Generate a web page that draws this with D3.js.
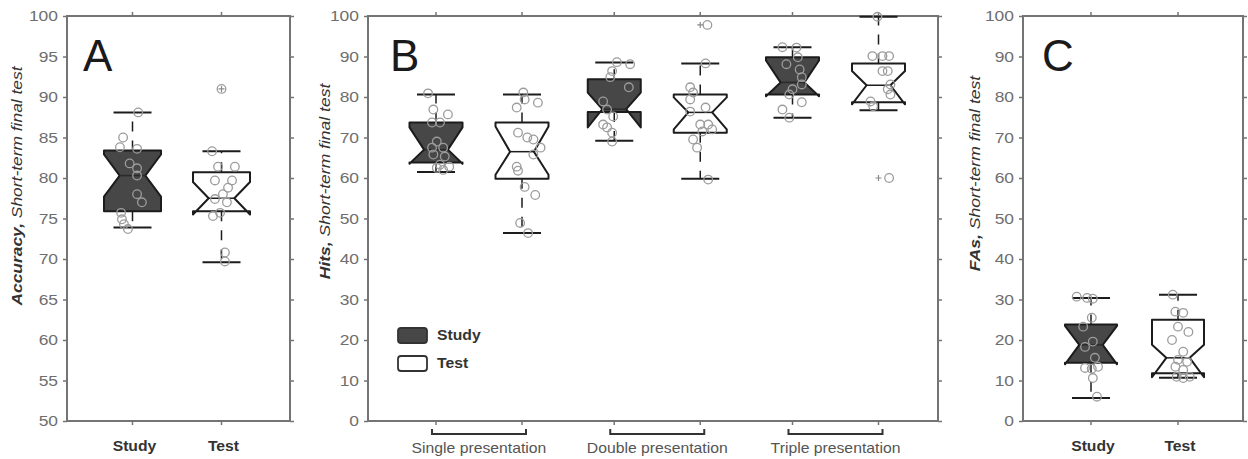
<!DOCTYPE html>
<html><head><meta charset="utf-8">
<script src="https://cdn.jsdelivr.net/npm/d3@7"></script>
<style>body{margin:0;background:#fff}svg{display:block}</style>
</head><body><svg id="chart" width="1248" height="459"></svg>
<script>
// ---------------- data ----------------
const yTicksA = [50, 55, 60, 65, 70, 75, 80, 85, 90, 95, 100];
const yTicksBC = [0, 10, 20, 30, 40, 50, 60, 70, 80, 90, 100];
const conditions = ["Study", "Test"];
const groupsB = ["Single presentation", "Double presentation", "Triple presentation"];
const panelLetters = ["A", "B", "C"];
const axisLabelBold = ["Accuracy,", "Hits,", "FAs,"];
const axisLabelRest = " Short-term final test";

const boxPanel     = ["A", "A", "B", "B", "B", "B", "B", "B", "C", "C"];
const boxGroup     = ["", "", "Single presentation", "Single presentation", "Double presentation", "Double presentation", "Triple presentation", "Triple presentation", "", ""];
const boxCondition = ["Study", "Test", "Study", "Test", "Study", "Test", "Study", "Test", "Study", "Test"];
const q1        = [75.9, 75.9, 63.8, 59.8, 76.3, 71.2, 80.6, 78.7, 14.4, 11.8];
const median    = [80.3, 77.5, 67.0, 66.5, 77.0, 76.2, 83.6, 82.9, 18.8, 15.6];
const q3        = [83.4, 80.7, 73.7, 73.7, 84.4, 80.6, 89.8, 88.3, 23.8, 25.0];
const notchLo   = [77.7, 75.5, 63.5, 60.8, 72.5, 72.0, 80.2, 78.2, 14.0, 10.8];
const notchHi   = [82.9, 79.5, 72.5, 72.7, 81.1, 79.9, 89.0, 86.4, 23.5, 18.8];
const whiskerLo = [73.9, 69.6, 61.5, 46.4, 69.2, 59.8, 74.9, 76.7, 5.7, 10.7];
const whiskerHi = [88.1, 83.3, 80.6, 80.6, 88.5, 88.3, 92.3, 99.8, 30.4, 31.2];
const outliers  = [[], [91.0], [], [], [], [97.8], [], [60.0], [], []];

const pointValues = [
  [88.1, 85.0, 83.8, 83.6, 81.8, 81.2, 80.3, 78.0, 77.0, 75.7, 74.9, 74.3, 73.7],
  [91.0, 83.3, 81.4, 81.4, 79.7, 79.7, 78.8, 78.0, 77.4, 77.0, 75.7, 75.3, 70.8, 69.7],
  [80.9, 76.9, 75.7, 73.7, 73.7, 69.0, 67.5, 67.5, 65.8, 65.3, 63.3, 62.8, 62.5, 62.0],
  [81.1, 79.4, 78.6, 77.4, 71.2, 70.0, 69.5, 67.5, 65.8, 62.8, 61.8, 57.8, 55.8, 48.9, 46.4],
  [88.6, 88.1, 86.4, 84.9, 82.4, 78.9, 76.9, 75.2, 73.2, 72.5, 71.2, 69.0],
  [97.8, 88.3, 82.4, 81.1, 79.4, 77.4, 76.4, 73.2, 73.2, 72.0, 71.5, 69.5, 67.5, 59.6],
  [92.3, 92.2, 89.8, 88.1, 86.8, 84.9, 83.1, 81.9, 80.6, 78.7, 76.9, 74.9],
  [99.8, 90.1, 90.1, 90.1, 86.4, 86.4, 83.1, 81.9, 80.6, 78.9, 77.7, 60.0],
  [30.7, 30.4, 30.2, 25.5, 23.3, 19.6, 18.3, 15.6, 13.4, 13.1, 12.9, 10.6, 6.0],
  [31.2, 27.0, 26.7, 23.3, 22.0, 20.0, 17.1, 15.1, 14.6, 13.4, 12.6, 10.9, 10.9, 10.6]
];
// horizontal jitter of each point, as a fraction of the half box width
const pointJitter = [
  [0.2, -0.33, -0.44, 0.16, -0.1, 0.16, 0.16, 0.16, 0.33, -0.4, -0.37, -0.3, -0.16],
  [0, -0.33, -0.12, 0.47, -0.23, 0.37, 0.23, 0.05, -0.23, 0.19, -0.05, -0.3, 0.12, 0.12],
  [-0.3, -0.1, 0.45, -0.15, 0.15, 0.03, -0.15, 0.27, -0.1, 0.33, 0.15, 0.5, 0.03, 0.27],
  [0.05, 0.1, 0.6, -0.2, -0.15, 0.2, 0.43, 0.7, 0.43, -0.2, -0.15, 0.1, 0.5, -0.07, 0.23],
  [0.1, 0.6, -0.08, -0.15, 0.55, -0.42, -0.27, -0.04, -0.42, -0.27, -0.08, -0.08],
  [0.27, 0.2, -0.38, -0.27, -0.38, 0.2, -0.38, 0, 0.3, 0.45, 0.08, -0.27, -0.12, 0.3],
  [-0.38, 0.15, 0.2, -0.23, 0.27, 0.35, 0.35, 0, -0.12, 0.35, -0.38, -0.12],
  [-0.04, -0.23, 0.15, 0.4, 0.15, 0.35, 0.45, 0.35, 0.45, -0.3, -0.2, 0.4],
  [-0.55, -0.15, 0.07, 0.03, -0.3, 0.07, -0.23, 0.15, 0.27, -0.23, 0.03, 0.07, 0.23],
  [-0.2, -0.1, 0.2, 0, 0.4, -0.23, 0.2, 0, 0.35, -0.1, 0.2, -0.05, 0.45, 0.2]
];

// ---------------- layout ----------------
const svg = d3.select("#chart");
const FRAME = "#747474";
const FONT = "'Liberation Sans', Arial, sans-serif";
const SX = 1.125; // horizontal stretch of the original figure text

const panels = {
  A: {left: 67, right: 290, top: 16, bottom: 421, domain: [50, 100], ticks: yTicksA,
      hw: 28.5, labelX: 17, labelY: 186, labelLen: 242, letterX: 83,
      x: d3.scalePoint().domain(conditions).range([132.5, 221.5])},
  B: {left: 368, right: 938, top: 16, bottom: 421, domain: [0, 100], ticks: yTicksBC,
      hw: 26.5, labelX: 325, labelY: 181.5, labelLen: 197, letterX: 390,
      group: d3.scalePoint().domain(groupsB).range([479, 835.5]),
      sub: d3.scalePoint().domain(conditions).range([-43, 43])},
  C: {left: 1023, right: 1243, top: 16, bottom: 421, domain: [0, 100], ticks: yTicksBC,
      hw: 26, labelX: 975, labelY: 173.5, labelLen: 197, letterX: 1042,
      x: d3.scalePoint().domain(conditions).range([1091, 1178])}
};
panels.B.xOf = (g, c) => panels.B.group(g) + panels.B.sub(c);
panels.A.xOf = (g, c) => panels.A.x(c);
panels.C.xOf = (g, c) => panels.C.x(c);

panelLetters.forEach((id, pi) => {
  const p = panels[id];
  p.y = d3.scaleLinear().domain(p.domain).range([p.bottom, p.top]);
  const g = svg.append("g");

  // left axis
  const ax = g.append("g").attr("transform", `translate(${p.left},0)`)
    .call(d3.axisLeft(p.y).tickValues(p.ticks).tickSize(4).tickPadding(4).tickSizeOuter(0));
  ax.select(".domain").remove();
  ax.selectAll(".tick line").attr("stroke", FRAME).attr("stroke-width", 1.5);
  ax.selectAll(".tick text").attr("fill", "#6e6e6e").attr("font-size", 15.5)
    .attr("font-family", FONT).attr("transform", `scale(${SX},1)`);
  // right ticks
  const ar = g.append("g").attr("transform", `translate(${p.right},0)`)
    .call(d3.axisRight(p.y).tickValues(p.ticks).tickSize(4).tickFormat("").tickSizeOuter(0));
  ar.select(".domain").remove();
  ar.selectAll(".tick line").attr("stroke", FRAME).attr("stroke-width", 1.5);

  // category ticks top & bottom
  const idx = d3.range(boxPanel.length).filter(i => boxPanel[i] === id);
  const xs = idx.map(i => p.xOf(boxGroup[i], boxCondition[i]));
  g.selectAll(".tt").data(xs).join("line")
    .attr("x1", d => d).attr("x2", d => d).attr("y1", p.top).attr("y2", p.top - 4)
    .attr("stroke", FRAME).attr("stroke-width", 1.5);
  g.selectAll(".tb").data(xs).join("line")
    .attr("x1", d => d).attr("x2", d => d).attr("y1", p.bottom).attr("y2", p.bottom + 4)
    .attr("stroke", FRAME).attr("stroke-width", 1.5);

  // frame
  g.append("rect").attr("x", p.left).attr("y", p.top)
    .attr("width", p.right - p.left).attr("height", p.bottom - p.top)
    .attr("fill", "none").attr("stroke", FRAME).attr("stroke-width", 2);

  // boxes
  const iw = p.hw * 0.45, capHw = 19;
  idx.forEach(i => {
    const cx = p.xOf(boxGroup[i], boxCondition[i]);
    const y = p.y;
    const xL = cx - p.hw, xR = cx + p.hw;
    const pts = [[xL, q1[i]], [xL, notchLo[i]], [cx - iw, median[i]], [xL, notchHi[i]], [xL, q3[i]],
                 [xR, q3[i]], [xR, notchHi[i]], [cx + iw, median[i]], [xR, notchLo[i]], [xR, q1[i]]];
    const study = boxCondition[i] === "Study";
    g.append("path")
      .attr("d", d3.line().x(d => d[0]).y(d => y(d[1]))(pts) + "Z")
      .attr("fill", study ? "#474747" : "#fff")
      .attr("stroke", "#1c1c1c").attr("stroke-width", 2).attr("stroke-linejoin", "round");
    g.append("line").attr("x1", cx - iw).attr("x2", cx + iw)
      .attr("y1", y(median[i])).attr("y2", y(median[i]))
      .attr("stroke", study ? "#2a2a2a" : "#1c1c1c").attr("stroke-width", 1.5);
    // whiskers
    [[q3[i], whiskerHi[i]], [q1[i], whiskerLo[i]]].forEach(([a, b]) => {
      g.append("line").attr("x1", cx).attr("x2", cx).attr("y1", y(a)).attr("y2", y(b))
        .attr("stroke", "#1c1c1c").attr("stroke-width", 1.5).attr("stroke-dasharray", "10,9");
      g.append("line").attr("x1", cx - capHw).attr("x2", cx + capHw).attr("y1", y(b)).attr("y2", y(b))
        .attr("stroke", "#1c1c1c").attr("stroke-width", 2);
    });
    // points
    g.selectAll(null).data(pointValues[i].map((v, k) => [v, pointJitter[i][k]])).join("circle")
      .attr("cx", d => cx + d[1] * p.hw).attr("cy", d => y(d[0])).attr("r", 4.3)
      .attr("fill", "none").attr("stroke", "#9c9c9c").attr("stroke-width", 1.3);
    // outlier markers
    outliers[i].forEach(v => {
      g.append("path").attr("d", `M${cx - 3},${y(v)}h6M${cx},${y(v) - 3}v6`)
        .attr("stroke", "#8a8a8a").attr("stroke-width", 1.2);
    });
  });

  // panel letter
  g.append("text").attr("x", p.letterX).attr("y", 71).text(id)
    .attr("font-family", FONT).attr("font-size", 44).attr("fill", "#1a1a1a");

  // y axis label
  const t = g.append("text").attr("text-anchor", "middle").attr("dy", "0.35em")
    .attr("font-family", FONT).attr("font-size", 14).attr("font-style", "italic").attr("fill", "#333");
  t.append("tspan").attr("font-weight", "bold").text(axisLabelBold[pi]);
  t.append("tspan").text(axisLabelRest);
  const L = t.node().getBBox().width;
  t.attr("transform", `translate(${p.labelX},${p.labelY}) rotate(-90) scale(${p.labelLen / L},1)`);

  // x labels
  if (id === "B") {
    groupsB.forEach(gr => {
      const gx = p.group(gr);
      g.append("path").attr("d", `M${gx - 47},429V434H${gx + 47}V429`)
        .attr("fill", "none").attr("stroke", "#333").attr("stroke-width", 2);
      g.append("text").text(gr).attr("text-anchor", "middle")
        .attr("transform", `translate(${gx},453) scale(${SX},1)`)
        .attr("font-family", FONT).attr("font-size", 14).attr("fill", "#555");
    });
  } else {
    conditions.forEach(c => {
      g.append("text").text(c).attr("text-anchor", "middle")
        .attr("transform", `translate(${p.x(c) + 2},451) scale(${SX},1)`)
        .attr("font-family", FONT).attr("font-size", 14).attr("font-weight", "bold").attr("fill", "#333");
    });
  }
});

// legend (panel B)
const lg = svg.append("g");
conditions.forEach((c, k) => {
  const ly = 335 + k * 28;
  lg.append("rect").attr("x", 398).attr("y", ly - 7).attr("width", 29).attr("height", 15).attr("rx", 3)
    .attr("fill", c === "Study" ? "#474747" : "#fff").attr("stroke", "#333").attr("stroke-width", 1.8);
  lg.append("text").text(c).attr("transform", `translate(437,${ly + 5}) scale(${SX},1)`)
    .attr("font-family", FONT).attr("font-size", 14).attr("font-weight", "bold").attr("fill", "#333");
});
</script></body></html>
